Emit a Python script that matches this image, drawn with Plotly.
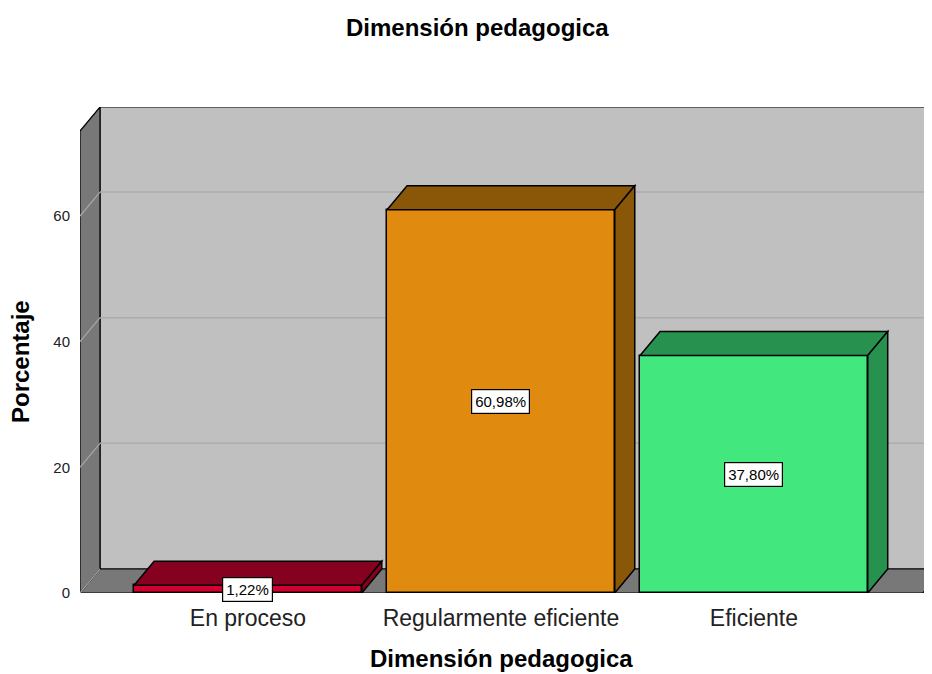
import plotly.graph_objects as go

# ---- data ----
categories = ["En proceso", "Regularmente eficiente", "Eficiente"]
percentages = [1.22, 60.98, 37.80]
value_labels = ["1,22%", "60,98%", "37,80%"]
y_ticks = [0, 20, 40, 60]

# ---- styling ----
front_colors = ["#d2002e", "#e08a10", "#42e87e"]
dark_colors = ["#860020", "#8a5607", "#279150"]
WALL = "#787878"
BACK = "#c0c0c0"
FONT = "Liberation Sans, Arial, sans-serif"

OFF = 8  # page body margin
W, H = 932 - OFF, 674 - OFF
ML, MR, MT, MB = 80 - OFF, 0, 107 - OFF, H - (593 - OFF)
XMIN, XMAX = -0.664, 2.704
YMAX = 77.35
DX, DY = 0.079, 3.82      # depth offset (data units)
HALF = 0.45               # half bar width
XFRONT_R = 2.668          # right edge of front floor

xs = list(range(len(categories)))

fig = go.Figure()
fig.add_trace(go.Bar(
    x=xs, y=percentages, width=2 * HALF,
    marker=dict(color=front_colors, line=dict(color="black", width=1.5)),
    hoverinfo="skip", showlegend=False,
))

shapes = []
def poly(pts, fill, line_color="black", lw=1.2, layer="below"):
    d = "M " + " L ".join(f"{x},{y}" for x, y in pts) + " Z"
    shapes.append(dict(type="path", path=d, xref="x", yref="y",
                       fillcolor=fill, line=dict(color=line_color, width=lw),
                       layer=layer))

# back wall
poly([(XMIN + DX, DY), (XMIN + DX, YMAX), (XMAX + 1, YMAX), (XMAX + 1, DY)], BACK)
# floor
poly([(XMIN, 0), (XMIN + DX, DY), (XFRONT_R + DX, DY), (XFRONT_R, 0)], WALL)
# left wall
poly([(XMIN, 0), (XMIN, YMAX - DY), (XMIN + DX, YMAX), (XMIN + DX, DY)], WALL)

# gridlines
for t in y_ticks:
    if t > 0:
        shapes.append(dict(type="line", xref="x", yref="y", x0=XMIN + DX, x1=XMAX + 1,
                           y0=t + DY, y1=t + DY, line=dict(color="#acacac", width=1.5),
                           layer="below"))
    shapes.append(dict(type="line", xref="x", yref="y", x0=XMIN, x1=XMIN + DX,
                       y0=t, y1=t + DY, line=dict(color="#a8a8a8", width=1.2),
                       layer="below"))

# 3D bar faces
for c, v, dc in zip(xs, percentages, dark_colors):
    poly([(c - HALF, v), (c - HALF + DX, v + DY), (c + HALF + DX, v + DY), (c + HALF, v)],
         dc, lw=1.5, layer="above")
    poly([(c + HALF, 0), (c + HALF, v), (c + HALF + DX, v + DY), (c + HALF + DX, DY)],
         dc, lw=1.5, layer="above")

annotations = []
for c, v, lab in zip(xs, percentages, value_labels):
    annotations.append(dict(x=c, y=v / 2, xref="x", yref="y", text=lab, showarrow=False,
                            font=dict(family=FONT, size=15, color="black"),
                            bgcolor="white", bordercolor="black", borderwidth=1.2,
                            borderpad=3))

pw = W - ML - MR
ph = H - MT - MB
def page_to_paper(xp, yp):
    xf, yf = xp - OFF, yp - OFF
    return (xf - ML) / pw, (H - MB - yf) / ph

for (xp, yp), txt, ang in [((477, 27), "<b>Dimensión pedagogica</b>", 0),
                           ((501, 658), "<b>Dimensión pedagogica</b>", 0),
                           ((20, 362), "<b>Porcentaje</b>", -90)]:
    ax_, ay_ = page_to_paper(xp, yp)
    annotations.append(dict(x=ax_, y=ay_, xref="paper", yref="paper", text=txt,
                            textangle=ang, showarrow=False, xanchor="center",
                            yanchor="middle",
                            font=dict(family=FONT, size=24, color="black")))

fig.update_layout(
    width=W, height=H,
    margin=dict(l=ML, r=MR, t=MT, b=MB, pad=0),
    paper_bgcolor="white", plot_bgcolor="white",
    shapes=shapes, annotations=annotations,
    xaxis=dict(range=[XMIN, XMAX], tickvals=xs, ticktext=categories, showgrid=False,
               zeroline=False, showline=False, ticks="",
               ticklabelstandoff=9,
               tickfont=dict(family=FONT, size=23, color="#222222")),
    yaxis=dict(range=[0, YMAX], tickvals=y_ticks, showgrid=False, zeroline=False,
               showline=False, ticks="", ticklabelstandoff=9,
               tickfont=dict(family=FONT, size=15, color="#222222")),
    bargap=0,
)

fig.write_html("out.html")
